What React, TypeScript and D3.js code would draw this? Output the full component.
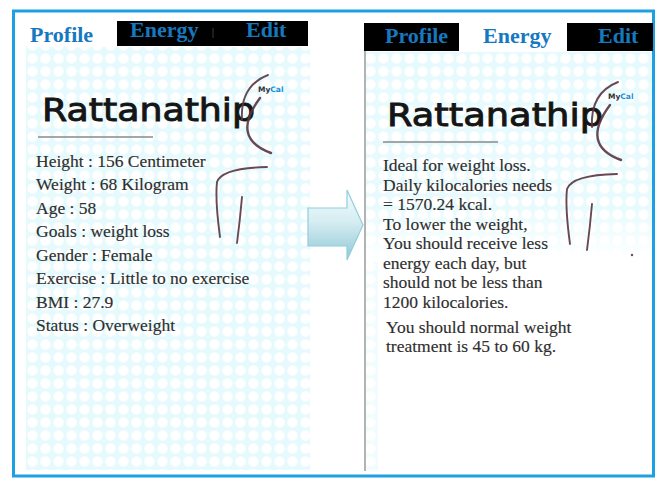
import React, { useEffect, useRef } from 'react';
import * as d3 from 'd3';

// ==== data

const tabLabels = ['Profile', 'Energy', 'Edit'];

const profileLines = [
  'Height : 156 Centimeter',
  'Weight : 68 Kilogram',
  'Age : 58',
  'Goals : weight loss',
  'Gender : Female',
  'Exercise : Little to no exercise',
  'BMI : 27.9',
  'Status : Overweight',
];

const energyLines = [
  'Ideal for weight loss.',
  'Daily kilocalories needs',
  '= 1570.24 kcal.',
  'To lower the weight,',
  'You should receive less',
  'energy each day, but',
  'should not be less than',
  '1200 kilocalories.',
];

const adviceLines = ['You should normal weight', 'treatment is 45 to 60 kg.'];

const logoName = 'Rattanathip';

// ====

const SERIF = '"Liberation Serif", "Times New Roman", serif';
const TAB_BLUE = '#1679bf';
const INK = '#2e2e2e';
const FIG = '#5a3440';

const drawLogo = (g: any, x: number, base: number, w: number, lineY: number) => {
  g.append('text')
    .attr('x', x)
    .attr('y', base)
    .attr('font-family', '"DejaVu Sans", sans-serif')
    .attr('font-size', 32)
    .attr('textLength', w)
    .attr('lengthAdjust', 'spacingAndGlyphs')
    .attr('fill', '#151515')
    .attr('stroke', '#151515')
    .attr('stroke-width', 0.9)
    .text(logoName);

  g.append('line')
    .attr('x1', x - 4).attr('x2', x + 111)
    .attr('y1', lineY).attr('y2', lineY)
    .attr('stroke', '#8a8a8a')
    .attr('stroke-width', 1.3);
};

const drawFigure = (g: any, dx: number, dy: number) => {
  const f = g.append('g').attr('transform', `translate(${dx},${dy})`);
  const strokes = [
    'M268,75 Q240,86 242,120',
    'M260,98 Q230,138 271,153',
    'M267,167 Q222,168 217,182 Q215,200 220,237',
    'M242,197 Q240,220 237,243',
  ];
  f.selectAll('path')
    .data(strokes)
    .enter()
    .append('path')
    .attr('d', (d: string) => d)
    .attr('fill', 'none')
    .attr('stroke', FIG)
    .attr('stroke-width', (_d: string, i: number) => (i === 1 ? 2.4 : 1.9))
    .attr('stroke-linecap', 'round')
    .attr('opacity', 0.9);

  const my = f.append('text')
    .attr('x', 258)
    .attr('y', 92)
    .attr('font-family', '"DejaVu Sans", sans-serif')
    .attr('font-size', 7.5)
    .attr('font-weight', 'bold');
  my.append('tspan').attr('fill', '#333').text('My');
  my.append('tspan').attr('fill', '#1a8fd6').text('Cal');
};

const drawLines = (g: any, lines: string[], x: number, y0: number, y1: number) => {
  const y = d3.scaleLinear().domain([0, Math.max(1, lines.length - 1)]).range([y0, y1]);
  g.selectAll(null)
    .data(lines)
    .enter()
    .append('text')
    .attr('x', x)
    .attr('y', (_d: string, i: number) => y(i))
    .attr('font-family', SERIF)
    .attr('font-size', 17.5)
    .attr('fill', INK)
    .attr('stroke', INK)
    .attr('stroke-width', 0.15)
    .text((d: string) => d);
};

const App = () => {
  const ref = useRef<SVGSVGElement | null>(null);

  useEffect(() => {
    const svg = d3.select(ref.current);
    svg.selectAll('*').remove();

    const defs = svg.append('defs');

    // dotted grid background
    const radial = defs.append('radialGradient').attr('id', 'dotg');
    radial.append('stop').attr('offset', '0%').attr('stop-color', '#ffffff');
    radial.append('stop').attr('offset', '70%').attr('stop-color', '#ffffff');
    radial.append('stop').attr('offset', '100%').attr('stop-color', '#eafbfd');

    const pat = defs.append('pattern')
      .attr('id', 'grid')
      .attr('width', 13).attr('height', 13)
      .attr('patternUnits', 'userSpaceOnUse');
    pat.append('rect').attr('width', 13).attr('height', 13).attr('fill', '#e6fafd');
    pat.append('circle').attr('cx', 6.5).attr('cy', 6.5).attr('r', 5.8).attr('fill', 'url(#dotg)');

    const fade = defs.append('linearGradient')
      .attr('id', 'fade').attr('x1', 0).attr('x2', 0).attr('y1', 0).attr('y2', 1);
    fade.append('stop').attr('offset', '0%').attr('stop-color', '#fff').attr('stop-opacity', 1);
    fade.append('stop').attr('offset', '75%').attr('stop-color', '#fff').attr('stop-opacity', 0.9);
    fade.append('stop').attr('offset', '100%').attr('stop-color', '#fff').attr('stop-opacity', 0);
    const mask = defs.append('mask').attr('id', 'fadeMask');
    mask.append('rect').attr('x', 366).attr('y', 52).attr('width', 286).attr('height', 210).attr('fill', 'url(#fade)');

    const arrowGrad = defs.append('linearGradient')
      .attr('id', 'arrowg').attr('x1', 0).attr('x2', 0).attr('y1', 0).attr('y2', 1);
    arrowGrad.append('stop').attr('offset', '0%').attr('stop-color', '#f4fbfc');
    arrowGrad.append('stop').attr('offset', '45%').attr('stop-color', '#d6edf2');
    arrowGrad.append('stop').attr('offset', '100%').attr('stop-color', '#8fc8d6');

    svg.append('rect').attr('width', 662).attr('height', 478).attr('fill', '#ffffff');

    // left panel grid
    svg.append('rect')
      .attr('x', 26).attr('y', 47).attr('width', 284).attr('height', 423)
      .attr('fill', 'url(#grid)');

    // right panel grid
    svg.append('rect')
      .attr('x', 366).attr('y', 52).attr('width', 286).attr('height', 210)
      .attr('fill', 'url(#grid)')
      .attr('mask', 'url(#fadeMask)');
    svg.append('rect')
      .attr('x', 366).attr('y', 262).attr('width', 12).attr('height', 208)
      .attr('fill', 'url(#grid)')
      .attr('opacity', 0.6);

    // outer frame
    svg.append('rect')
      .attr('x', 13.5).attr('y', 11).attr('width', 640).attr('height', 465)
      .attr('fill', 'none')
      .attr('stroke', '#1d9fe3')
      .attr('stroke-width', 3);

    // right panel divider
    svg.append('line')
      .attr('x1', 365).attr('x2', 365).attr('y1', 50).attr('y2', 471)
      .attr('stroke', '#9a9a9a').attr('stroke-width', 1.5);

    // ---- left tabs
    const left = svg.append('g');
    left.append('rect')
      .attr('x', 117).attr('y', 21).attr('width', 191).attr('height', 25)
      .attr('fill', '#000');
    const leftTabX = [30, 130, 246];
    const leftTabY = [42, 37, 37];
    left.selectAll('text.tab')
      .data(tabLabels)
      .enter()
      .append('text')
      .attr('class', 'tab')
      .attr('x', (_d: string, i: number) => leftTabX[i])
      .attr('y', (_d: string, i: number) => leftTabY[i])
      .attr('font-family', SERIF)
      .attr('font-weight', 'bold')
      .attr('font-size', 22)
      .attr('fill', TAB_BLUE)
      .text((d: string) => d);
    left.append('line')
      .attr('x1', 213).attr('x2', 213).attr('y1', 28).attr('y2', 38)
      .attr('stroke', '#3a3a3a').attr('stroke-width', 1);

    // ---- right tabs
    const right = svg.append('g');
    right.append('rect')
      .attr('x', 364).attr('y', 23).attr('width', 95).attr('height', 28)
      .attr('fill', '#000');
    right.append('rect')
      .attr('x', 567).attr('y', 23).attr('width', 86).attr('height', 28)
      .attr('fill', '#000');
    const rightTabX = [385, 483, 598];
    right.selectAll('text.tab')
      .data(tabLabels)
      .enter()
      .append('text')
      .attr('class', 'tab')
      .attr('x', (_d: string, i: number) => rightTabX[i])
      .attr('y', 43)
      .attr('font-family', SERIF)
      .attr('font-weight', 'bold')
      .attr('font-size', 22)
      .attr('fill', TAB_BLUE)
      .text((d: string) => d);

    // ---- logos and figures
    drawLogo(svg, 42, 121, 213, 137);
    drawLogo(svg, 387, 126, 216, 142);
    drawFigure(svg, 0, 0);
    drawFigure(svg, 350, 7);
    svg.append('circle').attr('cx', 632).attr('cy', 255).attr('r', 1.2).attr('fill', '#555');

    // ---- arrow
    svg.append('path')
      .attr('d', 'M308,208 L347,208 L347,190 L363,225 L347,260 L347,246 L308,246 Z')
      .attr('fill', 'url(#arrowg)')
      .attr('stroke', '#92cedd')
      .attr('stroke-width', 1.2);

    // ---- texts
    drawLines(svg, profileLines, 36, 166.5, 331);
    drawLines(svg, energyLines, 383, 171, 308);
    drawLines(svg, adviceLines, 386, 333, 352);
  }, []);

  return (
    <svg
      ref={ref}
      width={662}
      height={478}
      style={{ position: 'absolute', left: 0, top: 0, display: 'block' }}
    />
  );
};

export default App;
